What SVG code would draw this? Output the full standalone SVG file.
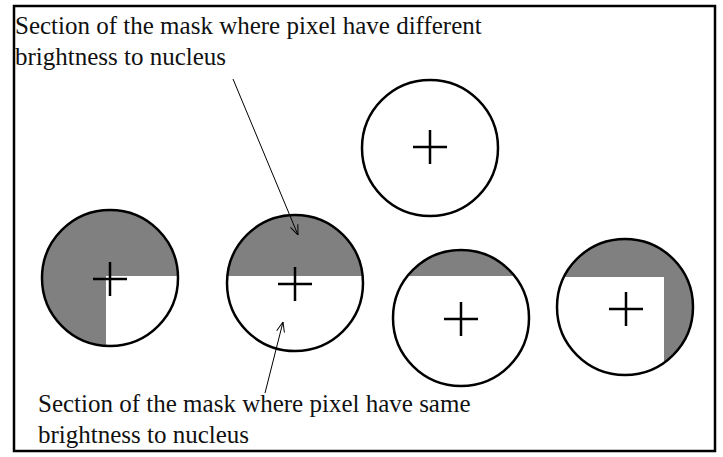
<svg xmlns="http://www.w3.org/2000/svg" width="723" height="457" viewBox="0 0 723 457">
<style>
.lbl{font-family:"Liberation Serif","Times New Roman",serif;font-size:25px;fill:#111}
.ring{fill:none;stroke:#000;stroke-width:2.5}
.cross{stroke:#000;stroke-width:2.5;fill:none}
.gray{fill:#808080}
.white{fill:#fff}
.conn{stroke:#000;stroke-width:1;fill:none;marker-end:url(#arr)}
</style>
<defs>
<marker id="arr" viewBox="0 0 10 10" refX="10" refY="5" markerWidth="10" markerHeight="10" markerUnits="userSpaceOnUse" orient="auto">
<path d="M0,1 L10,5 L0,9" fill="none" stroke="#000" stroke-width="1"/>
</marker>
<clipPath id="cA"><circle cx="110" cy="278" r="68"/></clipPath>
<clipPath id="cB"><circle cx="295" cy="283" r="68"/></clipPath>
<clipPath id="cC"><circle cx="461" cy="318" r="68"/></clipPath>
<clipPath id="cD"><circle cx="625" cy="307" r="68"/></clipPath>
</defs>
<rect x="0" y="0" width="723" height="457" fill="#fff"/>
<rect x="14" y="6" width="701" height="445" fill="none" stroke="#000" stroke-width="2.5"/>

<g id="label-different">
<text class="lbl" x="15" y="34">Section of the mask where pixel have different</text>
<text class="lbl" x="15" y="65">brightness to nucleus</text>
</g>
<g id="label-same">
<text class="lbl" x="38" y="412">Section of the mask where pixel have same</text>
<text class="lbl" x="38" y="443">brightness to nucleus</text>
</g>

<g id="mask-top">
<circle cx="430" cy="148" r="68" fill="#fff"/>
<circle class="ring" cx="430" cy="148" r="68"/>
<path class="cross" d="M413,147 H447 M430,130 V164"/>
</g>

<g id="mask-a">
<g clip-path="url(#cA)">
<rect class="gray" x="40" y="208" width="140" height="140"/>
<rect class="white" x="106" y="276" width="80" height="80"/>
</g>
<circle class="ring" cx="110" cy="278" r="68"/>
<path class="cross" d="M93,279 H127 M110,262 V296"/>
</g>

<g id="mask-b">
<g clip-path="url(#cB)">
<rect class="white" x="225" y="213" width="140" height="140"/>
<rect class="gray" x="225" y="213" width="140" height="63"/>
</g>
<circle class="ring" cx="295" cy="283" r="68"/>
<path class="cross" d="M278,284 H312 M295,267 V301"/>
</g>

<g id="mask-c">
<g clip-path="url(#cC)">
<rect class="white" x="391" y="248" width="140" height="140"/>
<rect class="gray" x="391" y="248" width="140" height="28"/>
</g>
<circle class="ring" cx="461" cy="318" r="68"/>
<path class="cross" d="M444,319 H478 M461,302 V336"/>
</g>

<g id="mask-d">
<g clip-path="url(#cD)">
<rect class="gray" x="555" y="237" width="140" height="140"/>
<rect class="white" x="550" y="277" width="114" height="110"/>
</g>
<circle class="ring" cx="625" cy="307" r="68"/>
<path class="cross" d="M609,309 H643 M626,292 V326"/>
</g>

<g id="connectors">
<line class="conn" x1="233" y1="79" x2="298" y2="235"/>
<line class="conn" x1="265" y1="393" x2="283" y2="322"/>
</g>
</svg>
